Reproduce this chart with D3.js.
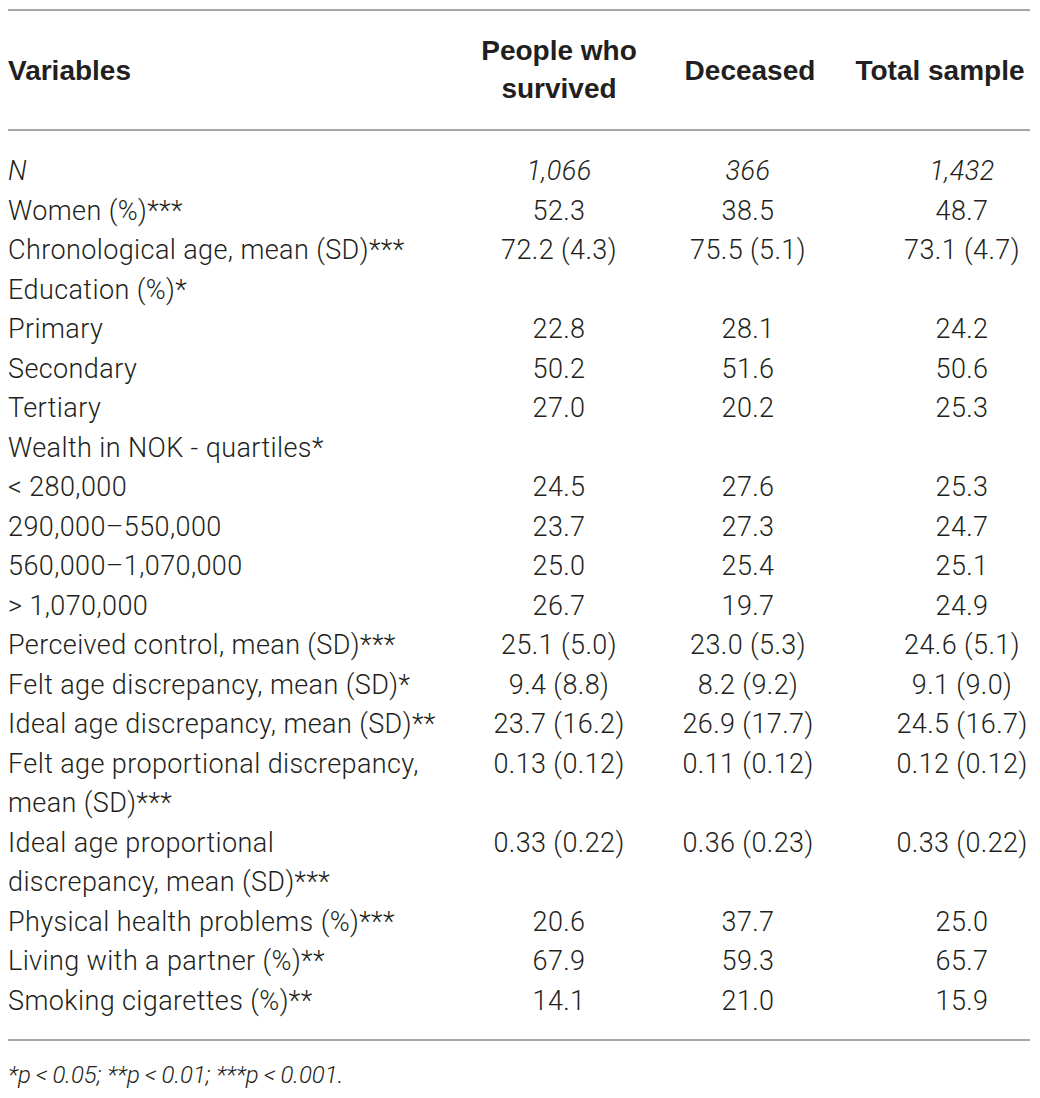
<!DOCTYPE html>
<html>
<head>
<meta charset="utf-8">
<script src="https://cdn.jsdelivr.net/npm/d3@7"></script>
<style>
  html, body { margin: 0; padding: 0; background: #fff; }
  text { font-family: "Liberation Sans", Arial, sans-serif; fill: #231f20; }
  text.light { font-family: Roboto, "Liberation Sans", Arial, sans-serif; font-weight: 300; letter-spacing: 0.4px; }
</style>
</head>
<body>
<div id="visualization"></div>
<script>
// table contents, one entry per row
var variables = [
  "N",
  "Women (%)***",
  "Chronological age, mean (SD)***",
  "Education (%)*",
  "Primary",
  "Secondary",
  "Tertiary",
  "Wealth in NOK - quartiles*",
  "< 280,000",
  "290,000\u2013550,000",
  "560,000\u20131,070,000",
  "> 1,070,000",
  "Perceived control, mean (SD)***",
  "Felt age discrepancy, mean (SD)*",
  "Ideal age discrepancy, mean (SD)**",
  "Felt age proportional discrepancy,|mean (SD)***",
  "Ideal age proportional|discrepancy, mean (SD)***",
  "Physical health problems (%)***",
  "Living with a partner (%)**",
  "Smoking cigarettes (%)**"
];
var survived = ["1,066", "52.3", "72.2 (4.3)", "", "22.8", "50.2", "27.0", "", "24.5", "23.7", "25.0", "26.7",
  "25.1 (5.0)", "9.4 (8.8)", "23.7 (16.2)", "0.13 (0.12)", "0.33 (0.22)", "20.6", "67.9", "14.1"];
var deceased = ["366", "38.5", "75.5 (5.1)", "", "28.1", "51.6", "20.2", "", "27.6", "27.3", "25.4", "19.7",
  "23.0 (5.3)", "8.2 (9.2)", "26.9 (17.7)", "0.11 (0.12)", "0.36 (0.23)", "37.7", "59.3", "21.0"];
var total = ["1,432", "48.7", "73.1 (4.7)", "", "24.2", "50.6", "25.3", "", "25.3", "24.7", "25.1", "24.9",
  "24.6 (5.1)", "9.1 (9.0)", "24.5 (16.7)", "0.12 (0.12)", "0.33 (0.22)", "25.0", "65.7", "15.9"];
var headers = ["Variables", "People who|survived", "Deceased", "Total sample"];
var italicRows = ["N"];
var footnote = "*p\u2009<\u20090.05; **p\u2009<\u20090.01; ***p\u2009<\u20090.001.";

class SampleTableLayout {
  constructor() {
    this.width = 1040;
    this.height = 1098;
    this.left = 8;
    this.right = 1030;
    this.lineHeight = 39.5;
    this.firstBaseline = 180;
    this.bodySize = 27;
    this.buildRows();
    this.buildScales();
    this.buildSvg();
  }

  buildRows() {
    // each row may wrap onto several lines; keep a running line index
    var line = 0;
    this.rows = variables.map(function (v, i) {
      var lines = v.split("|");
      var row = { label: lines, line: line, values: [survived[i], deceased[i], total[i]],
                  italic: italicRows.indexOf(v) >= 0 };
      line += lines.length;
      return row;
    });
    this.lineCount = line;
  }

  buildScales() {
    this.y = d3.scaleLinear()
      .domain([0, this.lineCount - 1])
      .range([this.firstBaseline, this.firstBaseline + this.lineHeight * (this.lineCount - 1)]);
    this.col = d3.scaleOrdinal()
      .domain([0, 1, 2])
      .range([559, 748, 962]);
    this.headCol = d3.scaleOrdinal()
      .domain([1, 2, 3])
      .range([559, 750, 940]);
  }

  buildSvg() {
    this.svg = d3.select("#visualization").append("svg")
      .attr("width", this.width)
      .attr("height", this.height);
  }

  drawRules() {
    var self = this;
    this.svg.selectAll("line.rule").data([10, 130, 1040])
      .enter().append("line")
      .attr("class", "rule")
      .attr("x1", self.left)
      .attr("x2", self.right)
      .attr("y1", function (d) { return d; })
      .attr("y2", function (d) { return d; })
      .style("stroke", "#a6a6a6")
      .style("stroke-width", 2);
  }

  drawHeader() {
    var self = this;
    var head = this.svg.append("g").attr("class", "header");
    head.selectAll("text").data(headers)
      .enter().append("text")
      .attr("x", function (d, i) { return i === 0 ? self.left : self.headCol(i); })
      .attr("text-anchor", function (d, i) { return i === 0 ? "start" : "middle"; })
      .style("font-size", "28px")
      .style("font-weight", "bold")
      .each(function (d) {
        var parts = d.split("|");
        var top = parts.length > 1 ? 60 : 80;
        d3.select(this).selectAll("tspan").data(parts)
          .enter().append("tspan")
          .attr("x", d3.select(this).attr("x"))
          .attr("y", function (p, j) { return top + j * 38; })
          .text(function (p) { return p; });
      });
  }

  drawBody() {
    var self = this;
    var row = this.svg.append("g").attr("class", "body")
      .selectAll("g.row").data(this.rows)
      .enter().append("g")
      .attr("class", "row");

    row.append("text")
      .attr("class", "light")
      .attr("x", self.left)
      .style("font-size", self.bodySize + "px")
      .style("font-style", function (d) { return d.italic ? "italic" : "normal"; })
      .selectAll("tspan").data(function (d) { return d.label.map(function (t, j) { return { t: t, line: d.line + j }; }); })
      .enter().append("tspan")
      .attr("x", self.left)
      .attr("y", function (d) { return self.y(d.line); })
      .text(function (d) { return d.t; });

    row.selectAll("text.value").data(function (d) { return d.values.map(function (v) { return { v: v, row: d }; }); })
      .enter().append("text")
      .attr("class", "value light")
      .attr("x", function (d, i) { return self.col(i); })
      .attr("y", function (d) { return self.y(d.row.line); })
      .attr("text-anchor", "middle")
      .style("font-size", self.bodySize + "px")
      .style("font-style", function (d) { return d.row.italic ? "italic" : "normal"; })
      .text(function (d) { return d.v; });
  }

  drawFootnote() {
    this.svg.append("text")
      .attr("class", "light")
      .attr("x", this.left)
      .attr("y", 1083)
      .style("font-size", "24px")
      .style("font-style", "italic")
      .style("letter-spacing", "0px")
      .text(footnote);
  }
}

var table = new SampleTableLayout();
table.drawRules();
table.drawHeader();
table.drawBody();
table.drawFootnote();
</script>
</body>
</html>
